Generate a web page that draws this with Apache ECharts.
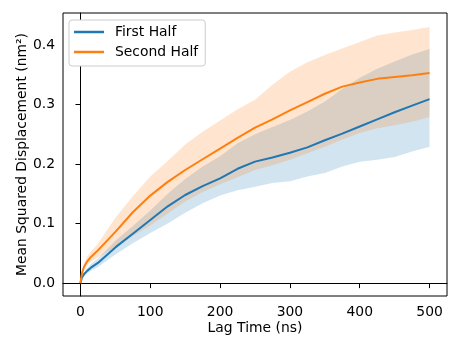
<!DOCTYPE html>
<html>
<head>
<meta charset="utf-8">
<script src="https://cdn.jsdelivr.net/npm/echarts@6/dist/echarts.min.js"></script>
<style>
  html, body { margin: 0; padding: 0; background: #fff; }
  #main { width: 461px; height: 346px; }
</style>
</head>
<body>
<div id="main"></div>
<script>
// lag times (ns)
const lagTime = [0, 2, 5, 10, 15, 25, 50, 75, 100, 125, 150, 175, 200, 225, 250, 275, 300, 325, 350, 375, 400, 425, 450, 475, 500];

// first half: mean and band
const firstMean  = [0, 0.009, 0.015, 0.021, 0.026, 0.034, 0.060, 0.083, 0.106, 0.129, 0.148, 0.163, 0.176, 0.192, 0.204, 0.211, 0.219, 0.228, 0.240, 0.251, 0.263, 0.275, 0.287, 0.298, 0.309];
const firstLow   = [0, 0.006, 0.011, 0.017, 0.021, 0.027, 0.048, 0.067, 0.084, 0.100, 0.118, 0.134, 0.147, 0.156, 0.162, 0.168, 0.171, 0.179, 0.185, 0.196, 0.204, 0.207, 0.212, 0.221, 0.229];
const firstHigh  = [0, 0.011, 0.018, 0.026, 0.032, 0.041, 0.071, 0.096, 0.122, 0.150, 0.175, 0.196, 0.213, 0.235, 0.250, 0.262, 0.274, 0.288, 0.305, 0.326, 0.345, 0.360, 0.372, 0.384, 0.393];

// second half: mean and band
const secondMean = [0, 0.016, 0.027, 0.037, 0.044, 0.055, 0.086, 0.119, 0.147, 0.170, 0.190, 0.208, 0.226, 0.244, 0.261, 0.275, 0.290, 0.304, 0.318, 0.330, 0.337, 0.343, 0.346, 0.349, 0.353];
const secondLow  = [0, 0.012, 0.021, 0.030, 0.036, 0.043, 0.060, 0.079, 0.097, 0.117, 0.137, 0.153, 0.166, 0.178, 0.190, 0.198, 0.207, 0.218, 0.229, 0.241, 0.252, 0.260, 0.265, 0.271, 0.279];
const secondHigh = [0, 0.019, 0.032, 0.045, 0.053, 0.066, 0.110, 0.146, 0.179, 0.205, 0.233, 0.254, 0.273, 0.292, 0.308, 0.333, 0.355, 0.371, 0.383, 0.394, 0.405, 0.416, 0.421, 0.425, 0.430];

const xTicks = [0, 100, 200, 300, 400, 500];
const yTicks = [0, 0.1, 0.2, 0.3, 0.4];

const BLUE = '#1f77b4';
const ORANGE = '#ff7f0e';
const FONT = 'DejaVu Sans';

function pairs(ys) {
    return lagTime.map((x, i) => [x, ys[i]]);
}

// shaded band between lo and hi, drawn as one polygon through the axes
function band(name, lo, hi, fill) {
    return {
        name: name, type: 'custom', silent: true, z: 1,
        data: [[lagTime[0], lo[0]]],
        renderItem: function (params, api) {
            const top = lagTime.map((x, i) => api.coord([x, hi[i]]));
            const bottom = lagTime.map((x, i) => api.coord([x, lo[i]])).reverse();
            return {
                type: 'polygon',
                shape: {points: top.concat(bottom)},
                style: {fill: fill, stroke: null}
            };
        }
    };
}

const chart = echarts.init(document.getElementById('main'), null, {renderer: 'canvas'});
chart.setOption({
    animation: false,
    backgroundColor: '#fff',
    textStyle: {fontFamily: FONT},
    grid: {
        left: 63, right: 14, top: 13, bottom: 50,
        show: true, borderColor: '#000', borderWidth: 1, backgroundColor: 'transparent'
    },
    legend: {
        data: ['First Half', 'Second Half'],
        orient: 'vertical',
        left: 69, top: 20,
        padding: [4, 7, 6, 5],
        itemGap: 4,
        itemWidth: 30, itemHeight: 2.5,
        icon: 'rect',
        borderColor: '#cccccc', borderWidth: 1, borderRadius: 3,
        backgroundColor: '#fff',
        textStyle: {fontFamily: FONT, fontSize: 13.9, color: '#000', lineHeight: 16, padding: [0, 0, 0, 6]}
    },
    xAxis: {
        type: 'value', min: -25, max: 525,
        name: 'Lag Time (ns)', nameLocation: 'middle', nameGap: 25, nameMoveOverlap: false,
        nameTextStyle: {fontFamily: FONT, fontSize: 13.9, color: '#000'},
        axisLine: {show: true, lineStyle: {color: '#000', width: 1}},
        axisTick: {show: true, length: 5, lineStyle: {color: '#000', width: 1}, customValues: xTicks},
        axisLabel: {margin: 9, fontFamily: FONT, fontSize: 13.9, color: '#000', customValues: xTicks},
        splitLine: {show: false}
    },
    yAxis: {
        type: 'value', min: -0.0216, max: 0.4536,
        name: 'Mean Squared Displacement (nm²)', nameLocation: 'middle', nameGap: 34, nameMoveOverlap: false,
        nameTextStyle: {fontFamily: FONT, fontSize: 13.9, color: '#000'},
        axisLine: {show: true, lineStyle: {color: '#000', width: 1}},
        axisTick: {show: true, length: 5, lineStyle: {color: '#000', width: 1}, customValues: yTicks},
        axisLabel: {
            margin: 8, fontFamily: FONT, fontSize: 13.9, color: '#000', customValues: yTicks,
            formatter: v => v.toFixed(1)
        },
        splitLine: {show: false}
    },
    series: [
        band('first_band', firstLow, firstHigh, 'rgba(31,119,180,0.2)'),
        band('second_band', secondLow, secondHigh, 'rgba(255,127,14,0.2)'),
        {
            name: 'First Half', type: 'line', data: pairs(firstMean), symbol: 'none',
            color: BLUE, lineStyle: {color: BLUE, width: 2}, z: 3
        },
        {
            name: 'Second Half', type: 'line', data: pairs(secondMean), symbol: 'none',
            color: ORANGE, lineStyle: {color: ORANGE, width: 2}, z: 3
        }
    ]
});
</script>
</body>
</html>
